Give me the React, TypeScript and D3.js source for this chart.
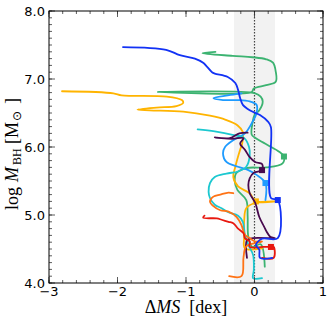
import React from 'react'
import * as d3 from 'd3'

// evolutionary tracks: [ΔMS (dex), log M_BH]
const blueTrack: [number, number][] = [
  [-1.92, 7.47], [-1.29, 7.43], [-1.09, 7.35], [-0.87, 7.30], [-0.75, 7.24], [-0.62, 7.10],
  [-0.58, 7.08], [-0.39, 7.03], [-0.28, 6.94], [-0.24, 6.84], [-0.21, 6.72], [-0.17, 6.62],
  [-0.07, 6.54], [0.08, 6.47], [0.2, 6.37], [0.24, 6.29], [0.24, 5.25], [0.34, 5.22],
  [0.34, 4.66], [0.11, 4.65], [0.02, 4.56], [0.07, 4.49], [0.08, 4.37], [0.26, 4.37],
]
const greenTrack: [number, number][] = [
  [-0.57, 7.4], [-0.76, 7.38], [-0.32, 7.34], [-0.03, 7.32], [0.17, 7.29], [0.27, 7.24],
  [0.31, 7.11], [0.31, 6.96], [0.17, 6.91], [-0.01, 6.86], [-0.04, 6.81], [-1.41, 6.81],
  [0.01, 6.79], [0.09, 6.74], [0.12, 6.67], [0.07, 6.54], [0.0, 6.47], [-0.03, 6.35],
  [-0.04, 6.18], [0.02, 6.13], [0.19, 6.03], [0.36, 5.93], [0.43, 5.86], [0.41, 5.76],
  [0.17, 5.7], [-0.12, 5.69], [-0.27, 5.61], [-0.29, 5.51], [-0.25, 5.37], [-0.12, 5.22],
  [-0.1, 4.98], [-0.09, 4.68], [-0.03, 4.53], [0.09, 4.57], [0.15, 4.24],
]
const goldTrack: [number, number][] = [
  [-2.81, 6.82], [-2.06, 6.79], [-1.94, 6.76], [-1.28, 6.74], [-1.06, 6.69], [-1.04, 6.65],
  [-1.14, 6.6], [-1.43, 6.58], [-1.71, 6.55], [-1.53, 6.54], [-1.04, 6.52], [-0.65, 6.46],
  [-0.42, 6.4], [-0.25, 6.32], [-0.17, 6.22], [-0.18, 6.05], [-0.21, 5.96], [-0.28, 5.71],
  [-0.31, 5.56], [-0.24, 5.42], [-0.07, 5.32], [0.02, 5.2], [0.31, 5.2], [0.02, 5.18],
  [-0.12, 5.1], [-0.15, 4.93], [-0.15, 4.69], [-0.14, 4.51], [0.11, 4.51],
]
const skyTrack: [number, number][] = [
  [-0.19, 6.79], [-0.39, 6.76], [-0.6, 6.72], [-0.46, 6.69], [-0.24, 6.69], [-0.07, 6.67],
  [0.03, 6.62], [0.03, 6.5], [-0.04, 6.35], [-0.14, 6.2], [-0.31, 6.1], [-0.43, 6.0],
  [-0.46, 5.91], [-0.41, 5.78], [-0.24, 5.71], [-0.09, 5.66], [0.03, 5.59], [0.16, 5.47],
  [0.16, 5.22],
]
const cyanTrack: [number, number][] = [
  [-0.83, 6.26], [-0.58, 6.23], [-0.32, 6.18], [-0.15, 6.13], [-0.08, 6.0], [-0.07, 5.87],
  [-0.12, 5.71], [-0.24, 5.64], [-0.41, 5.61], [-0.58, 5.56], [-0.65, 5.47], [-0.67, 5.34],
  [-0.65, 5.25], [-0.58, 5.15], [-0.48, 5.1], [-0.38, 5.04], [-0.24, 4.99], [-0.17, 4.9],
  [-0.14, 4.71], [-0.09, 4.56], [-0.02, 4.41], [-0.01, 4.19], [-0.02, 4.07], [0.11, 4.07],
]
const purpleTrack: [number, number][] = [
  [-0.1, 6.21], [-0.22, 6.2], [-0.36, 6.13], [-0.58, 6.14], [-0.33, 6.12], [-0.16, 6.13],
  [-0.21, 6.05], [-0.14, 5.96], [-0.07, 5.85], [0.01, 5.78], [0.11, 5.75], [0.11, 5.66],
  [-0.01, 5.62], [-0.07, 5.54], [-0.09, 5.44], [-0.07, 5.32], [0.01, 5.18], [0.07, 4.97],
  [0.14, 4.83], [0.18, 4.75], [0.23, 4.68], [0.3, 4.66], [-0.02, 4.66], [-0.11, 4.63],
  [-0.11, 4.37],
]
const orangeTrack: [number, number][] = [
  [-0.31, 5.32], [-0.38, 5.33], [-0.5, 5.3], [-0.6, 5.27], [-0.65, 5.2], [-0.6, 5.13],
  [-0.5, 5.07], [-0.38, 5.05], [-0.26, 4.97], [-0.19, 4.85], [-0.14, 4.71], [-0.07, 4.66],
  [0.01, 4.61], [0.11, 4.61], [-0.12, 4.54], [-0.16, 4.38], [-0.19, 4.1], [-0.37, 4.1],
]
const redTrack: [number, number][] = [
  [-0.73, 4.99], [-0.75, 4.96], [-0.55, 4.95], [-0.48, 4.93], [-0.38, 4.9], [-0.31, 4.88],
  [-0.24, 4.8], [-0.16, 4.73], [-0.14, 4.66], [-0.07, 4.61], [-0.07, 4.53], [0.12, 4.53],
  [0.24, 4.53], [0.28, 4.53], [0.28, 4.37], [0.11, 4.37],
]

const xTicks = [-3, -2, -1, 0, 1]
const yTicks = [4, 5, 6, 7, 8]

const tracks = [
  { pts: greenTrack, color: '#3cb371', mark: 22 },
  { pts: goldTrack, color: '#ffb400', mark: 21 },
  { pts: skyTrack, color: '#1e9bff', mark: 17 },
  { pts: cyanTrack, color: '#1cc8d0', mark: -1 },
  { pts: purpleTrack, color: '#48094e', mark: 11 },
  { pts: orangeTrack, color: '#ff7315', mark: -1 },
  { pts: redTrack, color: '#e8180f', mark: 12 },
  { pts: blueTrack, color: '#1232f5', mark: 17 },
]

const W = 332
const H = 323
const L = 49, R = 323, T = 11, B = 283

export default function App() {
  const x = d3.scaleLinear().domain([-3, 1]).range([L, R])
  const y = d3.scaleLinear().domain([4, 8]).range([B, T])
  const line = d3.line<[number, number]>()
    .x(d => x(d[0]))
    .y(d => y(d[1]))
    .curve(d3.curveCatmullRom.alpha(0.5))

  const xMinor = d3.range(-3, 1.001, 0.2)
  const yMinor = d3.range(4, 8.001, 0.1)
  const fmtY = d3.format('.1f')
  const fmtX = d3.format('d')
  const tickFont = "'DejaVu Sans', sans-serif"
  const serif = "'Liberation Serif', 'Times New Roman', serif"

  return (
    <svg width={W} height={H} style={{ position: 'absolute', left: 0, top: 0, background: '#fff' }}>
      <defs>
        <clipPath id="clip"><rect x={L} y={T} width={R - L} height={B - T} /></clipPath>
      </defs>
      <rect x={x(-0.3)} y={T} width={x(0.3) - x(-0.3)} height={B - T} fill="#f2f2f2" />
      <line x1={x(0)} x2={x(0)} y1={T} y2={B} stroke="#444" strokeWidth={1.2} strokeDasharray="1.5,1.5" />

      <g clipPath="url(#clip)">
        {tracks.map((t, i) => (
          <g key={i}>
            <path d={line(t.pts) ?? ''} fill="none" stroke={t.color} strokeWidth={1.8}
              strokeLinejoin="round" strokeLinecap="round" />
            {t.mark >= 0 && (
              <rect x={x(t.pts[t.mark][0]) - 3} y={y(t.pts[t.mark][1]) - 3} width={6} height={6} fill={t.color} />
            )}
          </g>
        ))}
      </g>

      {/* ticks, inward on all four sides */}
      <g stroke="#333" strokeWidth={0.8}>
        {xMinor.map((v, i) => (
          <g key={'xm' + i}>
            <line x1={x(v)} x2={x(v)} y1={B} y2={B - 3} />
            <line x1={x(v)} x2={x(v)} y1={T} y2={T + 3} />
          </g>
        ))}
        {yMinor.map((v, i) => (
          <g key={'ym' + i}>
            <line x1={L} x2={L + 3} y1={y(v)} y2={y(v)} />
            <line x1={R} x2={R - 3} y1={y(v)} y2={y(v)} />
          </g>
        ))}
        {xTicks.map(v => (
          <g key={'xM' + v}>
            <line x1={x(v)} x2={x(v)} y1={B} y2={B - 6} />
            <line x1={x(v)} x2={x(v)} y1={T} y2={T + 6} />
          </g>
        ))}
        {yTicks.map(v => (
          <g key={'yM' + v}>
            <line x1={L} x2={L + 6} y1={y(v)} y2={y(v)} />
            <line x1={R} x2={R - 6} y1={y(v)} y2={y(v)} />
          </g>
        ))}
      </g>
      <rect x={L} y={T} width={R - L} height={B - T} fill="none" stroke="#000" strokeWidth={1} />

      <g fontFamily={tickFont} fontSize={13} fill="#000">
        {yTicks.map(v => (
          <text key={'yl' + v} x={L - 4} y={y(v) + 4.5} textAnchor="end">{fmtY(v)}</text>
        ))}
        {xTicks.map(v => (
          <text key={'xl' + v} x={x(v)} y={B + 13} textAnchor="middle">{fmtX(v)}</text>
        ))}
      </g>

      {/* y label: log M_BH [M⊙] */}
      <g transform="translate(18,210) rotate(-90)" fontFamily={serif} fontSize={18} fill="#000">
        <text x={0} y={0}>log</text>
        <text x={28} y={0} fontStyle="italic">M</text>
        <text x={45} y={3} fontSize={12}>BH</text>
        <text x={66} y={0}>[M</text>
        <text x={89} y={3} fontSize={12} fontFamily="'DejaVu Sans', sans-serif">⊙</text>
        <text x={106} y={0}>]</text>
      </g>
      <text x={(L + R) / 2} y={313} textAnchor="middle" fontFamily={serif} fontSize={18} fill="#000">
        Δ<tspan fontStyle="italic">MS</tspan>{'\u00a0 '}[dex]
      </text>
    </svg>
  )
}
